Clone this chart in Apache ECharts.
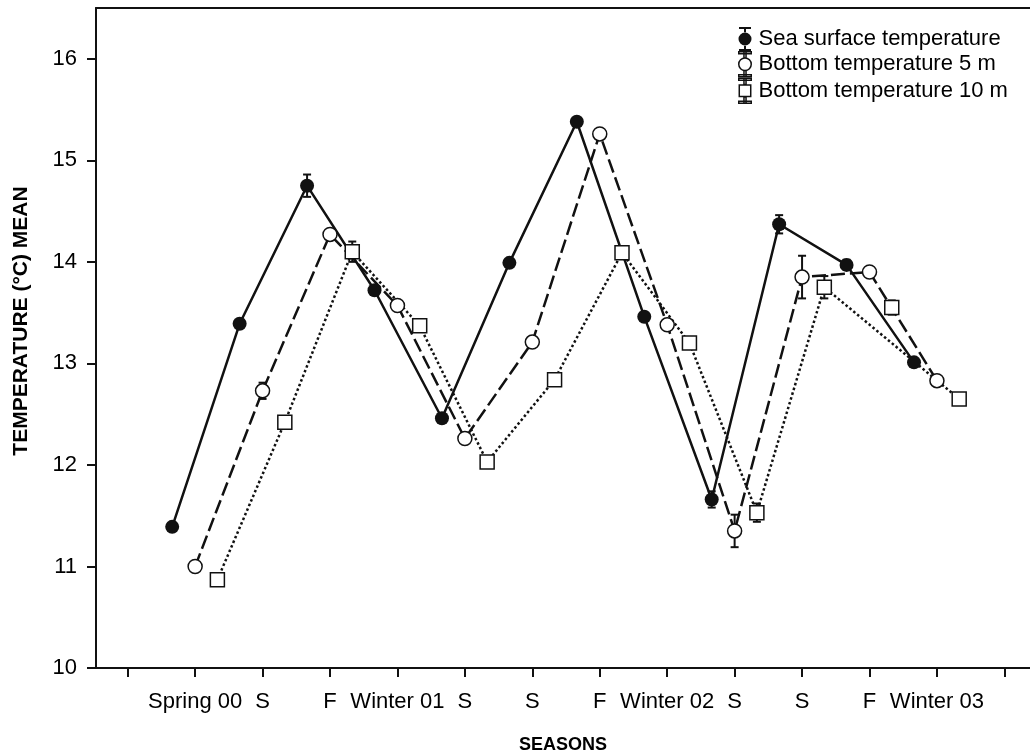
<!DOCTYPE html>
<html>
<head>
<meta charset="utf-8">
<script src="https://cdn.jsdelivr.net/npm/echarts@6/dist/echarts.min.js"></script>
<style>html,body{margin:0;padding:0;background:#fff}#chart{width:1030px;height:755px}</style>
</head>
<body>
<div id="chart"></div>
<script>
// ---- data ----
const categories = ['Spring 00', 'S', 'F', 'Winter 01', 'S', 'S', 'F', 'Winter 02', 'S', 'S', 'F', 'Winter 03'];
const seaSurface = [11.39, 13.39, 14.75, 13.72, 12.46, 13.99, 15.38, 13.46, 11.66, 14.37, 13.97, 13.01];
const bottom5m   = [11.00, 12.73, 14.27, 13.57, 12.26, 13.21, 15.26, 13.38, 11.35, 13.85, 13.90, 12.83];
const bottom10m  = [10.87, 12.42, 14.10, 13.37, 12.03, 12.84, 14.09, 13.20, 11.53, 13.75, 13.55, 12.65];
const seaErr  = [null, null, 0.11, null, null, null, null, null, 0.08, 0.09, 0.05, null];
const err5m   = [null, 0.08, null, null, null, null, null, null, 0.16, 0.21, null, null];
const err10m  = [null, null, 0.10, null, null, null, null, null, 0.09, 0.11, 0.07, null];
// the 10 m line in the original skips its F 02 point (index 10)
const bottom10mLineSkip = [10];
const yTicks = [10, 11, 12, 13, 14, 15, 16];
const seriesNames = ['Sea surface temperature', 'Bottom temperature 5 m', 'Bottom temperature 10 m'];

// ---- layout ----
const offsets = [-0.34, 0, 0.33];
const xTicks = [];
for (let i = 0; i <= categories.length + 1; i++) xTicks.push(i);
const labelPos = categories.map((c, i) => i + 1);
const X_MIN = -0.47, X_MAX = 13.38;

function pts(vals, off, skip) {
  return vals.map((v, i) => [i + 1 + off, (skip && skip.indexOf(i) >= 0) ? null : v]);
}
function errData(vals, errs, off) {
  const out = [];
  vals.forEach((v, i) => { if (errs[i] != null) out.push([i + 1 + off, v, errs[i]]); });
  return out;
}
const ink = '#111';

function errorSeries(name, data) {
  return {
    name: name, type: 'custom', z: 1, silent: true,
    data: data,
    renderItem: function (params, api) {
      const x = api.value(0), y = api.value(1), e = api.value(2);
      const hi = api.coord([x, y + e]);
      const lo = api.coord([x, y - e]);
      const cw = 4;
      return {
        type: 'group',
        children: [
          { type: 'line', shape: { x1: hi[0], y1: hi[1], x2: lo[0], y2: lo[1] }, style: { stroke: ink, lineWidth: 2 } },
          { type: 'line', shape: { x1: hi[0] - cw, y1: hi[1], x2: hi[0] + cw, y2: hi[1] }, style: { stroke: ink, lineWidth: 2 } },
          { type: 'line', shape: { x1: lo[0] - cw, y1: lo[1], x2: lo[0] + cw, y2: lo[1] }, style: { stroke: ink, lineWidth: 2 } }
        ]
      };
    }
  };
}

const barPath = 'M11 0h2v6h-2z M6 0h12v2h-12z M11 18h2v6h-2z M6 22h12v2h-12z ';
const iconFilled = 'path://' + barPath + 'M12 5.5a6.5 6.5 0 1 0 0.001 0z';
const iconCircle = 'path://' + barPath + 'M12 6a6 6 0 1 0 0.001 0z';
const iconSquare = 'path://' + barPath + 'M6.5 6.5h11v11h-11z';

const chart = echarts.init(document.getElementById('chart'), null, { renderer: 'canvas' });
chart.setOption({
  animation: false,
  backgroundColor: '#fff',
  textStyle: { fontFamily: '"Liberation Sans", Arial, sans-serif', color: '#000' },
  grid: { left: 96, right: 0, top: 8, bottom: 87, show: false, containLabel: false, outerBoundsMode: 'none' },
  legend: {
    orient: 'vertical', left: 733, top: 22, itemGap: 0, itemWidth: 13, itemHeight: 25,
    textStyle: { fontSize: 22, color: '#000', padding: [0, 0, 0, 2] },
    selectedMode: false,
    data: [
      { name: seriesNames[0], icon: iconFilled, itemStyle: { color: ink, borderWidth: 0 } },
      { name: seriesNames[1], icon: iconCircle, itemStyle: { color: '#fff', borderColor: ink, borderWidth: 1.5 } },
      { name: seriesNames[2], icon: iconSquare, itemStyle: { color: '#fff', borderColor: ink, borderWidth: 1.5 } }
    ]
  },
  xAxis: [{
    type: 'value', min: X_MIN, max: X_MAX,
    name: 'SEASONS', nameLocation: 'middle', nameGap: 68,
    nameTextStyle: { fontSize: 18, fontWeight: 'bold', color: '#000' },
    axisLine: { show: true, onZero: false, lineStyle: { color: ink, width: 2 } },
    axisTick: { show: true, length: 9, customValues: xTicks, lineStyle: { color: ink, width: 2 } },
    axisLabel: { customValues: labelPos, fontSize: 22, color: '#000', margin: 23,
      formatter: function (v) { return categories[Math.round(v) - 1] || ''; } },
    splitLine: { show: false }
  }, {
    type: 'value', position: 'top', min: X_MIN, max: X_MAX,
    axisLine: { show: true, onZero: false, lineStyle: { color: ink, width: 2 } },
    axisTick: { show: false }, axisLabel: { show: false }, splitLine: { show: false }
  }],
  yAxis: {
    type: 'value', min: 10, max: 16.5,
    name: 'TEMPERATURE (°C) MEAN', nameLocation: 'middle', nameGap: 64,
    nameTextStyle: { fontSize: 21, fontWeight: 'bold', color: '#000', padding: [0, 0, 0, 34] },
    axisLine: { show: true, onZero: false, lineStyle: { color: ink, width: 2 } },
    axisTick: { show: true, length: 9, customValues: yTicks, lineStyle: { color: ink, width: 2 } },
    axisLabel: { customValues: yTicks, fontSize: 22, color: '#000', margin: 19 },
    splitLine: { show: false }
  },
  series: [
    errorSeries(seriesNames[0], errData(seaSurface, seaErr, offsets[0])),
    errorSeries(seriesNames[1], errData(bottom5m, err5m, offsets[1])),
    errorSeries(seriesNames[2], errData(bottom10m, err10m, offsets[2])),
    { name: seriesNames[0], type: 'line', z: 2, showSymbol: false, silent: true,
      data: pts(seaSurface, offsets[0]), lineStyle: { color: ink, width: 2.5, type: 'solid' } },
    { name: seriesNames[1], type: 'line', z: 2, showSymbol: false, silent: true,
      data: pts(bottom5m, offsets[1]), lineStyle: { color: ink, width: 2.5, type: [14, 5] } },
    { name: seriesNames[2], type: 'line', z: 2, showSymbol: false, silent: true, connectNulls: true,
      data: pts(bottom10m, offsets[2], bottom10mLineSkip), lineStyle: { color: ink, width: 2.5, type: [2.5, 2.5] } },
    { name: seriesNames[0], type: 'scatter', z: 3, symbol: 'circle', symbolSize: 14, silent: true,
      data: pts(seaSurface, offsets[0]), itemStyle: { color: ink, opacity: 1 } },
    { name: seriesNames[1], type: 'scatter', z: 3, symbol: 'circle', symbolSize: 14, silent: true,
      data: pts(bottom5m, offsets[1]), itemStyle: { color: '#fff', borderColor: ink, borderWidth: 1.5, opacity: 1 } },
    { name: seriesNames[2], type: 'scatter', z: 3, symbol: 'rect', symbolSize: 14, silent: true,
      data: pts(bottom10m, offsets[2]), itemStyle: { color: '#fff', borderColor: ink, borderWidth: 1.5, opacity: 1 } }
  ]
});
</script>
</body>
</html>
